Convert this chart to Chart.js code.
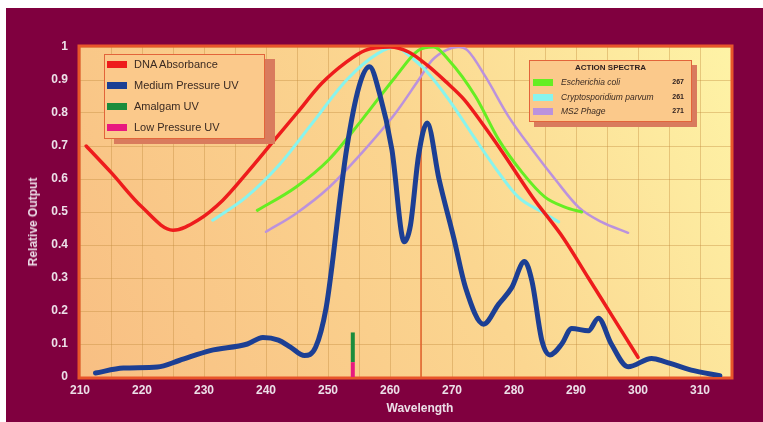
<!DOCTYPE html>
<html>
<head>
<meta charset="utf-8">
<script src="https://cdn.jsdelivr.net/npm/chart.js@4/dist/chart.umd.min.js"></script>
<style>
    html, body { margin: 0; padding: 0; background: #fff; }
    #stage { position: relative; width: 763px; height: 422px; overflow: hidden; font-family: "Liberation Sans", Arial, sans-serif; }
    #frame { position: absolute; left: 6px; top: 8px; right: 0; bottom: 0; background: #80003f; }
    #chart { position: absolute; left: 0; top: 0; }
    .box { position: absolute; background: #fbc98b; border: 1.5px solid #e2643a; box-sizing: border-box; }
    .shadow { position: absolute; background: #d97b5d; }
    .row { position: absolute; left: 0; right: 0; height: 12px; }
    .swatch { position: absolute; width: 20px; height: 7px; }
    .axis-title { position: absolute; color: #ecdfe8; font-weight: bold; font-size: 12px; white-space: nowrap; }
</style>
</head>
<body>
<div id="stage">
    <div id="frame"></div>
    <canvas id="chart" width="763" height="422"></canvas>

    <div class="axis-title" id="yTitle" style="left:33px; top:222px; transform: translate(-50%, -50%) rotate(-90deg);">Relative Output</div>
    <div class="axis-title" id="xTitle" style="left:420px; top:408px; transform: translate(-50%, -50%);">Wavelength</div>

    <div class="shadow" style="left:114px; top:59px; width:161px; height:85px;"></div>
    <div class="box" id="lampLegend" style="left:104px; top:54px; width:161px; height:85px;"></div>

    <div class="shadow" style="left:534px; top:65px; width:163px; height:62px;"></div>
    <div class="box" id="spectraLegend" style="left:529px; top:60px; width:163px; height:62px;"></div>
</div>

<script>
// x axis: wavelength (nm), y axis: relative output
const xTicks = [210, 220, 230, 240, 250, 260, 270, 280, 290, 300, 310];
const yTicks = [0, 0.1, 0.2, 0.3, 0.4, 0.5, 0.6, 0.7, 0.8, 0.9, 1];

// DNA absorbance
const dnaNm  = [211, 215, 220, 225, 229, 233, 237, 241, 245, 249, 253, 256, 260, 263, 266, 269, 272, 275, 278, 283, 288, 292, 296, 300];
const dnaVal = [0.70, 0.62, 0.515, 0.445, 0.475, 0.535, 0.62, 0.71, 0.80, 0.89, 0.955, 0.99, 1.0, 0.985, 0.945, 0.895, 0.84, 0.765, 0.685, 0.545, 0.42, 0.30, 0.18, 0.06];

// medium pressure UV lamp
const mpNm  = [212.5, 217, 222.5, 226, 231, 237, 239.5, 242, 244, 246.2, 248, 249.7, 250.8, 251.8, 253, 255, 256.7, 258.3, 260.3, 262.3, 263.3, 264.6, 266, 267.9, 270.3, 272.2, 275.1, 277.5, 279.6, 281.7, 282.9, 284.5, 285.8, 287.7, 289.3, 292, 293.6, 295.7, 298.4, 302.2, 304.4, 308.6, 313.2];
const mpVal = [0.012, 0.027, 0.03, 0.05, 0.08, 0.10, 0.12, 0.112, 0.09, 0.065, 0.09, 0.21, 0.36, 0.52, 0.69, 0.88, 0.94, 0.86, 0.69, 0.41, 0.46, 0.67, 0.77, 0.60, 0.42, 0.27, 0.16, 0.22, 0.27, 0.35, 0.29, 0.11, 0.067, 0.10, 0.147, 0.14, 0.178, 0.10, 0.031, 0.056, 0.046, 0.021, 0.004];

// action spectra
const ecoliNm  = [238.6, 244.8, 250.2, 255.5, 260.9, 264.6, 267, 269.5, 273.8, 277.5, 281.3, 285, 288.2, 290.9];
const ecoliVal = [0.505, 0.575, 0.66, 0.78, 0.91, 0.99, 1.0, 0.96, 0.85, 0.72, 0.62, 0.545, 0.515, 0.50];
const cryptoNm  = [231.4, 236.8, 242, 247.5, 253, 258, 261, 263, 265.7, 269.5, 273.8, 277.5, 280.7, 284.5, 287.2];
const cryptoVal = [0.475, 0.545, 0.64, 0.77, 0.90, 0.98, 1.0, 0.975, 0.93, 0.84, 0.72, 0.62, 0.545, 0.50, 0.47];
const ms2Nm  = [240, 244.8, 250.2, 255.5, 260.9, 264.6, 266.8, 269, 271, 272.5, 275.4, 279.1, 282.9, 286.6, 290.4, 294.1, 298.4];
const ms2Val = [0.44, 0.495, 0.575, 0.68, 0.80, 0.90, 0.96, 0.99, 1.0, 0.99, 0.91, 0.79, 0.69, 0.60, 0.515, 0.47, 0.437];

// 254 nm lamps (stacked) and the 265 nm marker
const lampNm = 254;
const lowPressure = [0, 0.045];
const amalgam = [0.045, 0.135];
const markerNm = 265;
const markerSpan = [0, 1];

const lampSeries = [
    { label: 'DNA Absorbance', color: '#ee1c1c' },
    { label: 'Medium Pressure UV', color: '#1c3f94' },
    { label: 'Amalgam UV', color: '#1a8c3c' },
    { label: 'Low Pressure UV', color: '#e8197f' }
];
const spectraSeries = [
    { label: 'Escherichia coli', peak: 267, color: '#66ee22' },
    { label: 'Cryptosporidium parvum', peak: 261, color: '#88f4ee' },
    { label: 'MS2 Phage', peak: 271, color: '#bb92dd' }
];

const pts = (xs, ys) => xs.map((x, i) => ({ x: x, y: ys[i] }));

function buildLegends() {
    const left = document.getElementById('lampLegend');
    left.innerHTML = lampSeries.map((s, i) => `
        <div class="row" style="top:${4 + i * 21}px;">
            <div class="swatch" style="left:2px; top:2px; background:${s.color};"></div>
            <div style="position:absolute; left:29px; top:-1px; font-size:11px; color:#3a2a22;">${s.label}</div>
        </div>`).join('');

    const right = document.getElementById('spectraLegend');
    right.innerHTML = `<div style="position:absolute; left:0; right:0; top:2px; text-align:center; font-size:8px; font-weight:bold; color:#2e2020;">ACTION SPECTRA</div>` +
        spectraSeries.map((s, i) => `
        <div class="row" style="top:${16 + i * 14.5}px;">
            <div class="swatch" style="left:3px; top:2px; background:${s.color};"></div>
            <div style="position:absolute; left:31px; top:0; font-size:8.5px; font-style:italic; color:#3a2a22;">${s.label}</div>
            <div style="position:absolute; right:7px; top:1px; font-size:7px; font-weight:bold; color:#2e2020;">${s.peak}</div>
        </div>`).join('');
}

// plot background gradient and the thick frame around it
const plotFrame = {
    id: 'plotFrame',
    beforeDraw(chart) {
        const { ctx, chartArea: a } = chart;
        const g = ctx.createLinearGradient(a.left, a.bottom, a.right, a.top);
        g.addColorStop(0, '#f8bf83');
        g.addColorStop(0.55, '#fbd690');
        g.addColorStop(1, '#fef3a6');
        ctx.save();
        ctx.fillStyle = g;
        ctx.fillRect(a.left, a.top, a.right - a.left, a.bottom - a.top);
        ctx.restore();
    },
    beforeDatasetsDraw(chart) {
        const { ctx, chartArea: a } = chart;
        ctx.save();
        ctx.strokeStyle = '#e8552a';
        ctx.lineWidth = 3;
        ctx.strokeRect(a.left - 1, a.top - 1, a.right - a.left + 2, a.bottom - a.top + 2);
        ctx.restore();
    }
};

function line(label, data, color, width, order) {
    return {
        label: label,
        data: data,
        borderColor: color,
        borderWidth: width,
        pointRadius: 0,
        fill: false,
        cubicInterpolationMode: 'monotone',
        borderCapStyle: 'round',
        borderJoinStyle: 'round',
        order: order
    };
}

function setupChart() {
    new Chart(document.getElementById('chart'), {
        type: 'line',
        data: {
            datasets: [
                line('Marker', pts([markerNm, markerNm], markerSpan), '#e2602c', 1.5, 9),
                line('Cryptosporidium parvum', pts(cryptoNm, cryptoVal), spectraSeries[1].color, 3, 6),
                line('Escherichia coli', pts(ecoliNm, ecoliVal), spectraSeries[0].color, 3, 5),
                line('MS2 Phage', pts(ms2Nm, ms2Val), spectraSeries[2].color, 2.5, 7),
                line('DNA Absorbance', pts(dnaNm, dnaVal), lampSeries[0].color, 3.5, 3),
                line('Medium Pressure UV', pts(mpNm, mpVal), lampSeries[1].color, 5, 1),
                Object.assign(line('Low Pressure UV', pts([lampNm, lampNm], lowPressure), lampSeries[3].color, 4, 2), { borderCapStyle: 'butt' }),
                Object.assign(line('Amalgam UV', pts([lampNm, lampNm], amalgam), lampSeries[2].color, 4, 2), { borderCapStyle: 'butt' })
            ]
        },
        options: {
            responsive: false,
            animation: false,
            layout: { padding: { top: 47, right: 32, left: 0, bottom: 0 } },
            plugins: {
                legend: { display: false },
                tooltip: { enabled: false }
            },
            scales: {
                x: {
                    type: 'linear',
                    min: 210,
                    max: 315,
                    afterFit: s => { s.height = 45; },
                    afterBuildTicks: s => {
                        const out = [];
                        for (let v = 210; v <= 315; v += 5) out.push({ value: v });
                        s.ticks = out;
                    },
                    ticks: {
                        autoSkip: false,
                        maxRotation: 0,
                        padding: 6,
                        color: '#ecdfe8',
                        font: { family: '"Liberation Sans", Arial, sans-serif', size: 12, weight: 'bold' },
                        callback: v => xTicks.includes(v) ? String(v) : ''
                    },
                    grid: { color: 'rgba(196,140,62,0.4)', lineWidth: 1, drawTicks: false, tickLength: 0 },
                    border: { display: false }
                },
                y: {
                    min: 0,
                    max: 1,
                    afterFit: s => { s.width = 80; },
                    afterBuildTicks: s => { s.ticks = yTicks.map(v => ({ value: v })); },
                    ticks: {
                        padding: 12,
                        color: '#ecdfe8',
                        font: { family: '"Liberation Sans", Arial, sans-serif', size: 12, weight: 'bold' },
                        callback: v => String(+v.toFixed(1))
                    },
                    grid: { color: 'rgba(196,140,62,0.4)', lineWidth: 1, drawTicks: false, tickLength: 0 },
                    border: { display: false }
                }
            }
        },
        plugins: [plotFrame]
    });
}

document.addEventListener('DOMContentLoaded', () => {
    buildLegends();
    setupChart();
});
</script>
</body>
</html>
